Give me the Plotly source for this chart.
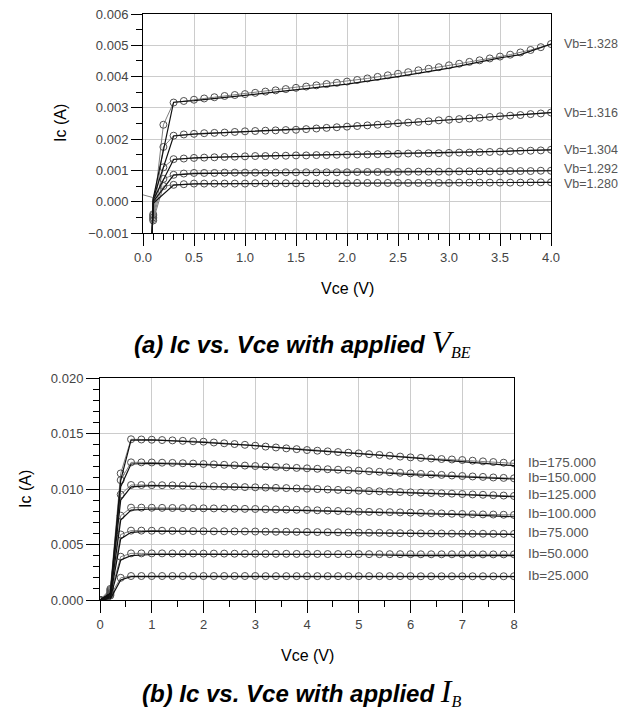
import plotly.graph_objects as go

# ---------------- (a) Ic vs Vce with applied Vbe ----------------
vce_a = [0.1, 0.2, 0.3, 0.4, 0.5, 0.6, 0.7, 0.8, 0.9, 1.0,
         1.1, 1.2, 1.3, 1.4, 1.5, 1.6, 1.7, 1.8, 1.9, 2.0,
         2.1, 2.2, 2.3, 2.4, 2.5, 2.6, 2.7, 2.8, 2.9, 3.0,
         3.1, 3.2, 3.3, 3.4, 3.5, 3.6, 3.7, 3.8, 3.9, 4.0]
vb_labels = ["Vb=1.328", "Vb=1.316", "Vb=1.304", "Vb=1.292", "Vb=1.280"]
ic_a_1328 = [-0.00040, 0.00246, 0.00317, 0.00322, 0.00326, 0.00330, 0.00334, 0.00338, 0.00341, 0.00344,
             0.00348, 0.00352, 0.00356, 0.00360, 0.00364, 0.00368, 0.00372, 0.00376, 0.00380, 0.00384,
             0.00389, 0.00394, 0.00399, 0.00404, 0.00409, 0.00414, 0.00420, 0.00425, 0.00430, 0.00436,
             0.00441, 0.00447, 0.00452, 0.00458, 0.00464, 0.00470, 0.00477, 0.00485, 0.00494, 0.00504]
ic_a_1316 = [-0.00045, 0.00175, 0.00211, 0.00215, 0.00217, 0.00219, 0.00220, 0.00221, 0.00223, 0.00225,
             0.00226, 0.00227, 0.00228, 0.00229, 0.00230, 0.00232, 0.00234, 0.00236, 0.00238, 0.00240,
             0.00242, 0.00244, 0.00246, 0.00248, 0.00251, 0.00253, 0.00255, 0.00257, 0.00260, 0.00262,
             0.00264, 0.00266, 0.00268, 0.00271, 0.00273, 0.00275, 0.00277, 0.00280, 0.00282, 0.00285]
ic_a_1304 = [-0.00050, 0.00110, 0.00136, 0.00138, 0.00140, 0.00141, 0.00142, 0.00143, 0.00144, 0.00145,
             0.00146, 0.00146, 0.00147, 0.00147, 0.00148, 0.00148, 0.00149, 0.00149, 0.00150, 0.00150,
             0.00151, 0.00151, 0.00152, 0.00152, 0.00153, 0.00154, 0.00154, 0.00155, 0.00155, 0.00156,
             0.00157, 0.00157, 0.00158, 0.00159, 0.00160, 0.00161, 0.00162, 0.00163, 0.00164, 0.00166]
ic_a_1292 = [-0.00055, 0.00073, 0.00086, 0.00090, 0.00092, 0.00092, 0.00092, 0.00093, 0.00093, 0.00093,
             0.00093, 0.00093, 0.00093, 0.00094, 0.00094, 0.00094, 0.00094, 0.00094, 0.00094, 0.00094,
             0.00095, 0.00095, 0.00095, 0.00095, 0.00095, 0.00096, 0.00096, 0.00096, 0.00096, 0.00096,
             0.00097, 0.00097, 0.00097, 0.00097, 0.00097, 0.00098, 0.00098, 0.00098, 0.00099, 0.00099]
ic_a_1280 = [-0.00060, 0.00050, 0.00054, 0.00056, 0.00058, 0.00058, 0.00058, 0.00058, 0.00058, 0.00058,
             0.00059, 0.00059, 0.00059, 0.00059, 0.00059, 0.00059, 0.00059, 0.00059, 0.00059, 0.00059,
             0.00060, 0.00060, 0.00060, 0.00060, 0.00060, 0.00060, 0.00060, 0.00060, 0.00060, 0.00060,
             0.00061, 0.00061, 0.00061, 0.00061, 0.00061, 0.00061, 0.00061, 0.00062, 0.00062, 0.00062]
meas_a = [ic_a_1328, ic_a_1316, ic_a_1304, ic_a_1292, ic_a_1280]

vce_a_model = [0.085, 0.1, 0.3, 0.5, 1.0, 1.5, 2.0, 2.5, 3.0, 3.5, 3.7, 4.0]
model_a_1328 = [-0.0015, 0.00010, 0.00318, 0.00323, 0.00340, 0.00357, 0.00376, 0.00400, 0.00427, 0.00460, 0.00470, 0.00504]
model_a_1316 = [-0.0015, 0.00010, 0.00210, 0.00216, 0.00224, 0.00231, 0.00240, 0.00250, 0.00261, 0.00272, 0.00277, 0.00285]
model_a_1304 = [-0.0015, 0.00005, 0.00135, 0.00140, 0.00145, 0.00148, 0.00150, 0.00153, 0.00157, 0.00161, 0.00163, 0.00166]
model_a_1292 = [-0.0015, 0.00000, 0.00085, 0.00090, 0.00092, 0.00093, 0.00094, 0.00095, 0.00096, 0.00097, 0.00098, 0.00099]
model_a_1280 = [-0.0015, -0.00005, 0.00053, 0.00057, 0.00058, 0.00059, 0.00059, 0.00060, 0.00060, 0.00061, 0.00061, 0.00062]
model_a = [model_a_1328, model_a_1316, model_a_1304, model_a_1292, model_a_1280]

lead_x = [0.0, 0.1]
lead_y = [0.00022, 0.00013]

# ---------------- (b) Ic vs Vce with applied Ib ----------------
vce_b = [0.0, 0.2, 0.4, 0.6, 0.8, 1.0, 1.2, 1.4, 1.6, 1.8,
         2.0, 2.2, 2.4, 2.6, 2.8, 3.0, 3.2, 3.4, 3.6, 3.8,
         4.0, 4.2, 4.4, 4.6, 4.8, 5.0, 5.2, 5.4, 5.6, 5.8,
         6.0, 6.2, 6.4, 6.6, 6.8, 7.0, 7.2, 7.4, 7.6, 7.8, 8.0]
ib_labels = ["Ib=175.000", "Ib=150.000", "Ib=125.000", "Ib=100.000", "Ib=75.000", "Ib=50.000", "Ib=25.000"]
ic_b_175 = [0.0, 0.0010, 0.0114, 0.01448, 0.01446, 0.01444, 0.01441, 0.01438, 0.01434, 0.01430,
            0.01426, 0.01419, 0.01412, 0.01405, 0.01398, 0.01390, 0.01382, 0.01374, 0.01366, 0.01359,
            0.01351, 0.01345, 0.01339, 0.01333, 0.01327, 0.01321, 0.01314, 0.01307, 0.01300, 0.01292,
            0.01285, 0.01280, 0.01275, 0.01270, 0.01266, 0.01261, 0.01255, 0.01249, 0.01243, 0.01237, 0.01231]
ic_b_150 = [0.0, 0.0009, 0.0108, 0.01240, 0.01240, 0.01239, 0.01237, 0.01235, 0.01232, 0.01229,
            0.01225, 0.01222, 0.01218, 0.01214, 0.01211, 0.01207, 0.01203, 0.01199, 0.01195, 0.01190,
            0.01186, 0.01182, 0.01178, 0.01174, 0.01169, 0.01165, 0.01160, 0.01155, 0.01151, 0.01146,
            0.01141, 0.01136, 0.01131, 0.01127, 0.01122, 0.01117, 0.01113, 0.01109, 0.01104, 0.01100, 0.01096]
ic_b_125 = [0.0, 0.0008, 0.0095, 0.01036, 0.01036, 0.01035, 0.01034, 0.01033, 0.01031, 0.01029,
            0.01027, 0.01025, 0.01022, 0.01020, 0.01017, 0.01015, 0.01013, 0.01010, 0.01008, 0.01005,
            0.01003, 0.01000, 0.00996, 0.00992, 0.00989, 0.00985, 0.00982, 0.00979, 0.00976, 0.00973,
            0.00970, 0.00967, 0.00964, 0.00961, 0.00958, 0.00955, 0.00951, 0.00948, 0.00944, 0.00941, 0.00937]
ic_b_100 = [0.0, 0.0007, 0.0076, 0.00832, 0.00832, 0.00831, 0.00830, 0.00829, 0.00828, 0.00827,
            0.00826, 0.00825, 0.00824, 0.00822, 0.00821, 0.00820, 0.00818, 0.00816, 0.00815, 0.00813,
            0.00811, 0.00808, 0.00805, 0.00802, 0.00799, 0.00796, 0.00794, 0.00792, 0.00791, 0.00789,
            0.00787, 0.00785, 0.00782, 0.00780, 0.00777, 0.00775, 0.00773, 0.00771, 0.00770, 0.00768, 0.00766]
ic_b_75 = [0.0, 0.0006, 0.0059, 0.00625, 0.00625, 0.00624, 0.00624, 0.00623, 0.00622, 0.00621,
           0.00620, 0.00619, 0.00619, 0.00618, 0.00618, 0.00617, 0.00616, 0.00615, 0.00615, 0.00614,
           0.00613, 0.00612, 0.00611, 0.00610, 0.00608, 0.00607, 0.00606, 0.00605, 0.00603, 0.00602,
           0.00601, 0.00600, 0.00600, 0.00599, 0.00598, 0.00598, 0.00597, 0.00597, 0.00596, 0.00596, 0.00595]
ic_b_50 = [0.0, 0.0005, 0.0039, 0.00420, 0.00420, 0.00420, 0.00420, 0.00419, 0.00419, 0.00419,
           0.00418, 0.00418, 0.00418, 0.00417, 0.00417, 0.00417, 0.00416, 0.00416, 0.00416, 0.00415,
           0.00415, 0.00415, 0.00414, 0.00414, 0.00414, 0.00414, 0.00413, 0.00413, 0.00413, 0.00413,
           0.00413, 0.00412, 0.00412, 0.00412, 0.00412, 0.00412, 0.00411, 0.00411, 0.00411, 0.00411, 0.00411]
ic_b_25 = [0.0, 0.0004, 0.0020, 0.00216, 0.00216, 0.00216, 0.00216, 0.00216, 0.00216, 0.00216,
           0.00216, 0.00216, 0.00216, 0.00216, 0.00216, 0.00216, 0.00215, 0.00215, 0.00215, 0.00215,
           0.00215, 0.00215, 0.00215, 0.00215, 0.00215, 0.00215, 0.00215, 0.00215, 0.00215, 0.00215,
           0.00215, 0.00214, 0.00214, 0.00214, 0.00214, 0.00214, 0.00214, 0.00214, 0.00214, 0.00214, 0.00214]
meas_b = [ic_b_175, ic_b_150, ic_b_125, ic_b_100, ic_b_75, ic_b_50, ic_b_25]

vce_b_model = [0.0, 0.2, 0.4, 0.6, 1.0, 2.0, 3.0, 4.0, 5.0, 6.0, 7.0, 8.0]
model_b_175 = [0.0, 0.0006, 0.0108, 0.01440, 0.01442, 0.01420, 0.01390, 0.01350, 0.01318, 0.01280, 0.01248, 0.01210]
model_b_150 = [0.0, 0.0006, 0.0102, 0.01225, 0.01230, 0.01220, 0.01200, 0.01180, 0.01160, 0.01130, 0.01110, 0.01090]
model_b_125 = [0.0, 0.0005, 0.0090, 0.01020, 0.01030, 0.01024, 0.01012, 0.01000, 0.00980, 0.00965, 0.00950, 0.00930]
model_b_100 = [0.0, 0.0004, 0.0072, 0.00810, 0.00820, 0.00820, 0.00815, 0.00805, 0.00790, 0.00780, 0.00770, 0.00750]
model_b_75 = [0.0, 0.0003, 0.0055, 0.00610, 0.00620, 0.00620, 0.00615, 0.00610, 0.00605, 0.00600, 0.00590, 0.00590]
model_b_50 = [0.0, 0.0002, 0.0036, 0.00400, 0.00410, 0.00410, 0.00410, 0.00410, 0.00410, 0.00400, 0.00400, 0.00400]
model_b_25 = [0.0, 0.0001, 0.0018, 0.00210, 0.00210, 0.00210, 0.00210, 0.00210, 0.00210, 0.00210, 0.00210, 0.00210]
model_b = [model_b_175, model_b_150, model_b_125, model_b_100, model_b_75, model_b_50, model_b_25]

# ---------------- styling ----------------
W, H = 623, 711
FONT = "Liberation Sans, Arial, sans-serif"
MEAS_LINE = "#808080"
MARK = "#505050"
MODEL = "#111111"
GRID = "#cccccc"

fig = go.Figure()

def add_curves(xm, series, xmod, models, xa, ya):
    for ys in series:
        fig.add_trace(go.Scatter(x=xm, y=ys, mode="lines+markers", xaxis=xa, yaxis=ya,
                                 line=dict(color=MEAS_LINE, width=1),
                                 marker=dict(symbol="circle-open", size=7, color=MARK, line=dict(width=1)),
                                 showlegend=False, hoverinfo="skip"))
    for ys in models:
        fig.add_trace(go.Scatter(x=xmod, y=ys, mode="lines", xaxis=xa, yaxis=ya,
                                 line=dict(color=MODEL, width=1.2),
                                 showlegend=False, hoverinfo="skip"))

add_curves(vce_a, meas_a, vce_a_model, model_a, "x", "y")
fig.add_trace(go.Scatter(x=lead_x, y=lead_y, mode="lines", xaxis="x", yaxis="y",
                         line=dict(color=MEAS_LINE, width=1), showlegend=False, hoverinfo="skip"))
add_curves(vce_b, meas_b, vce_b_model, model_b, "x2", "y2")

def px_x(p):
    return p / W

def px_y(p):
    return (H - p) / H

tickfont = dict(family=FONT, size=13, color="#444444")
common_ax = dict(showline=True, linecolor="#000000", linewidth=1, mirror=True, automargin=False,
                 showgrid=True, gridcolor=GRID, gridwidth=1, zeroline=False,
                 ticks="outside", tickcolor="#000000", tickfont=tickfont)

fig.update_layout(
    template="none",
    width=W, height=H, margin=dict(l=0, r=0, t=0, b=0, pad=0), autosize=False,
    paper_bgcolor="white", plot_bgcolor="white", showlegend=False,
    xaxis=dict(common_ax, domain=[px_x(143), px_x(551)], anchor="y", range=[0, 4],
               dtick=0.5, tick0=0, tickformat=".1f", ticklen=12,
               minor=dict(dtick=0.1, ticklen=6, ticks="outside", tickcolor="#000000", showgrid=False)),
    yaxis=dict(common_ax, domain=[px_y(233), px_y(14)], anchor="x", range=[-0.001, 0.006],
               dtick=0.001, tick0=0, tickformat=".3f", ticklen=11,
               minor=dict(dtick=0.0005, ticklen=6, ticks="outside", tickcolor="#000000", showgrid=False)),
    xaxis2=dict(common_ax, domain=[px_x(100), px_x(514)], anchor="y2", range=[0, 8],
                dtick=1, tick0=0, tickformat="d", ticklen=12,
                minor=dict(dtick=0.5, ticklen=6, ticks="outside", tickcolor="#000000", showgrid=False)),
    yaxis2=dict(common_ax, domain=[px_y(600), px_y(378)], anchor="x2", range=[0, 0.020],
                dtick=0.005, tick0=0, tickformat=".3f", ticklen=13,
                minor=dict(dtick=0.001, ticklen=6, ticks="outside", tickcolor="#000000", showgrid=False)),
)

ann = []
# series labels on the right
shifts_a = [0, 0, 0, 2, -2]
for lab, ys, sh in zip(vb_labels, meas_a, shifts_a):
    ann.append(dict(x=vce_a[-1], y=ys[-1], xref="x", yref="y", text=lab, showarrow=False,
                    xanchor="left", yanchor="middle", xshift=11, yshift=sh,
                    font=dict(family=FONT, size=12.5, color="#555555")))
for lab, ys in zip(ib_labels, meas_b):
    ann.append(dict(x=vce_b[-1], y=ys[-1], xref="x2", yref="y2", text=lab, showarrow=False,
                    xanchor="left", yanchor="middle", xshift=12, yshift=1,
                    font=dict(family=FONT, size=13.5, color="#555555")))

title_font = dict(family=FONT, size=16, color="#000000")
ann += [
    dict(x=px_x(347), y=px_y(288), xref="paper", yref="paper", text="Vce (V)", showarrow=False,
         xanchor="center", yanchor="middle", font=title_font),
    dict(x=px_x(60), y=px_y(123), xref="paper", yref="paper", text="Ic (A)", showarrow=False,
         textangle=-90, xanchor="center", yanchor="middle", font=title_font),
    dict(x=px_x(307), y=px_y(655), xref="paper", yref="paper", text="Vce (V)", showarrow=False,
         xanchor="center", yanchor="middle", font=title_font),
    dict(x=px_x(25), y=px_y(489), xref="paper", yref="paper", text="Ic (A)", showarrow=False,
         textangle=-90, xanchor="center", yanchor="middle", font=title_font),
]

cap_font = dict(family=FONT, size=24, color="#000000")
serif = "font-family:'Liberation Serif','Times New Roman',serif"
cap_a = ("<b><i>(a) Ic vs. Vce with applied </i></b>"
         f"<span style=\"{serif};font-size:32px\"><i>V</i></span>"
         f"<span style=\"{serif};font-size:23px\"><i><sub>BE</sub></i></span>")
cap_b = ("<b><i>(b) Ic vs. Vce with applied </i></b>"
         f"<span style=\"{serif};font-size:32px\"><i>I</i></span>"
         f"<span style=\"{serif};font-size:23px\"><i><sub>B</sub></i></span>")
ann += [
    dict(x=px_x(302), y=px_y(343), xref="paper", yref="paper", text=cap_a, showarrow=False,
         xanchor="center", yanchor="middle", font=cap_font),
    dict(x=px_x(301), y=px_y(691), xref="paper", yref="paper", text=cap_b, showarrow=False,
         xanchor="center", yanchor="middle", font=cap_font),
]
fig.update_layout(annotations=ann)

# remove the browser's default page margin so the figure sits at the window origin
page_fix = ("document.documentElement.style.margin='0';document.documentElement.style.padding='0';"
            "document.body.style.margin='0';document.body.style.padding='0';"
            "document.body.style.overflow='hidden';")
fig.write_html("out.html", post_script=page_fix,
               config={"responsive": False, "displayModeBar": False, "staticPlot": True})
